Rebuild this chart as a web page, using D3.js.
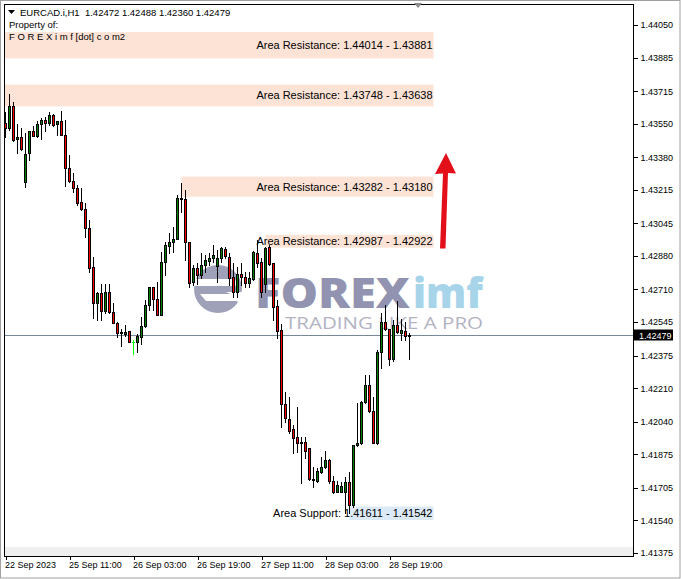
<!DOCTYPE html>
<html><head><meta charset="utf-8">
<script src="https://cdn.jsdelivr.net/npm/d3@7"></script>
<style>html,body{margin:0;padding:0;background:#fff;}svg{display:block;font-family:"Liberation Sans",Arial,sans-serif;}</style>
</head><body><svg id="c" width="681" height="579"></svg>
<script>
const titleText = "EURCAD.i,H1  1.42472 1.42488 1.42360 1.42479";
const ownerLines = ["Property of:", "F O R E X i m f [dot] c o m2"];
const opens = [1.43554,1.43528,1.43640,1.43472,1.43483,1.43255,1.43402,1.43513,1.43488,1.43548,
1.43569,1.43554,1.43594,1.43548,1.43564,1.43493,1.43326,1.43260,1.43224,1.43153,
1.43118,1.43022,1.42824,1.42642,1.42692,1.42601,1.42697,1.42596,1.42540,1.42490,
1.42484,1.42500,1.42444,1.42444,1.42469,1.42525,1.42631,1.42723,1.42662,1.42581,
1.42849,1.42930,1.42951,1.42966,1.43174,1.43168,1.42951,1.42748,1.42819,1.42783,
1.42834,1.42854,1.42870,1.42829,1.42870,1.42915,1.42875,1.42773,1.42697,1.42788,
1.42773,1.42743,1.42763,1.42895,1.42849,1.42738,1.42925,1.42844,1.42626,1.42505,
1.42130,1.42054,1.42003,1.41963,1.41937,1.41937,1.41907,1.41750,1.41740,1.41785,
1.41811,1.41846,1.41740,1.41684,1.41684,1.41684,1.41735,1.41618,1.41922,1.41932,
1.42140,1.42226,1.42094,1.41932,1.42393,1.42545,1.42510,1.42358,1.42530,1.42490,
1.42500,1.42472];
const highs = [1.43609,1.43700,1.43660,1.43548,1.43528,1.43503,1.43513,1.43538,1.43564,1.43579,
1.43584,1.43609,1.43599,1.43564,1.43614,1.43569,1.43391,1.43300,1.43239,1.43224,
1.43148,1.43062,1.42875,1.42697,1.42738,1.42738,1.42738,1.42642,1.42545,1.42510,
1.42530,1.42500,1.42454,1.42484,1.42571,1.42657,1.42723,1.42723,1.42748,1.42900,
1.42951,1.42996,1.43027,1.43189,1.43250,1.43214,1.42951,1.42834,1.42844,1.42895,
1.42885,1.42895,1.42935,1.42910,1.42925,1.42925,1.42895,1.42844,1.42824,1.42844,
1.42799,1.42799,1.42905,1.42961,1.42870,1.42925,1.42935,1.42844,1.42657,1.42535,
1.42191,1.42165,1.42024,1.42115,1.41963,1.41963,1.41907,1.41811,1.41806,1.41861,
1.41892,1.41851,1.41765,1.41740,1.41735,1.41760,1.41785,1.41922,1.42135,1.42145,
1.42277,1.42277,1.42165,1.42403,1.42591,1.42631,1.42510,1.42555,1.42652,1.42561,
1.42545,1.42488];
const lows = [1.43483,1.43518,1.43462,1.43402,1.43417,1.43229,1.43366,1.43488,1.43483,1.43472,
1.43513,1.43543,1.43538,1.43493,1.43493,1.43234,1.43255,1.43204,1.43138,1.43113,
1.42976,1.42799,1.42566,1.42555,1.42555,1.42591,1.42591,1.42540,1.42469,1.42424,
1.42474,1.42444,1.42383,1.42393,1.42434,1.42520,1.42606,1.42606,1.42581,1.42581,
1.42783,1.42895,1.42900,1.42966,1.43103,1.42859,1.42723,1.42733,1.42738,1.42768,
1.42799,1.42834,1.42849,1.42748,1.42849,1.42870,1.42733,1.42672,1.42672,1.42733,
1.42723,1.42723,1.42758,1.42824,1.42672,1.42697,1.42834,1.42555,1.42464,1.42013,
1.42039,1.41983,1.41882,1.41887,1.41730,1.41856,1.41745,1.41709,1.41735,1.41780,
1.41806,1.41730,1.41679,1.41684,1.41684,1.41578,1.41578,1.41608,1.41917,1.41927,
1.42135,1.42089,1.41932,1.41927,1.42312,1.42505,1.42327,1.42348,1.42490,1.42454,
1.42454,1.42360];
const closes = [1.43528,1.43640,1.43467,1.43483,1.43422,1.43396,1.43513,1.43488,1.43548,1.43569,
1.43554,1.43594,1.43543,1.43564,1.43493,1.43326,1.43260,1.43224,1.43148,1.43118,
1.43022,1.42819,1.42642,1.42692,1.42601,1.42697,1.42596,1.42540,1.42490,1.42495,
1.42495,1.42444,1.42444,1.42474,1.42525,1.42631,1.42723,1.42662,1.42581,1.42849,
1.42935,1.42951,1.42966,1.43174,1.43168,1.42951,1.42743,1.42819,1.42783,1.42834,
1.42859,1.42870,1.42885,1.42870,1.42920,1.42880,1.42768,1.42697,1.42788,1.42773,
1.42743,1.42768,1.42900,1.42844,1.42697,1.42920,1.42839,1.42621,1.42500,1.42130,
1.42059,1.41993,1.41958,1.41932,1.41932,1.41892,1.41750,1.41745,1.41791,1.41811,
1.41846,1.41740,1.41684,1.41720,1.41714,1.41735,1.41618,1.41922,1.41932,1.42140,
1.42226,1.42094,1.41932,1.42393,1.42545,1.42510,1.42358,1.42530,1.42495,1.42505,
1.42474,1.42479];
const xTickBars = [0,16,32,48,64,80,96];
const xTickLabels = ["22 Sep 2023","25 Sep 11:00","26 Sep 03:00","26 Sep 19:00","27 Sep 11:00","28 Sep 03:00","28 Sep 19:00"];
const yTickValues = [1.44050,1.43885,1.43715,1.43550,1.43380,1.43215,1.43045,1.42880,1.42710,1.42545,1.42375,1.42210,1.42040,1.41875,1.41705,1.41540,1.41375];
const zoneNames = ["Area Resistance","Area Resistance","Area Resistance","Area Resistance","Area Support"];
const zoneTop = [1.44014,1.43748,1.43282,1.42987,1.41611];
const zoneBottom = [1.43881,1.43638,1.43180,1.42922,1.41542];
const zoneStartBar = [-20,-20,44,65,86];
const zoneEndBar = [107,107,107,107,107];
const zoneColors = ["#fde3d6","#fde3d6","#fde3d6","#fde3d6","#dce9f6"];
const lastPrice = 1.42479;
const priceMin = 1.41375, priceMax = 1.44050;

const svg = d3.select("#c");
const plotL = 4, plotR = 633, plotT = 4, plotB = 556;
const y = d3.scaleLinear().domain([priceMin, priceMax]).range([553, 25]);
const x = d3.scaleLinear().domain([0, 100]).range([5.5, 405.5]);

svg.append("rect").attr("x",0.5).attr("y",0.5).attr("width",679.5).attr("height",577.5).attr("fill","#fff").attr("stroke","#a0a0a0");
svg.append("defs").append("clipPath").attr("id","pc").append("rect")
  .attr("x",plotL+1).attr("y",plotT+1).attr("width",plotR-plotL-1).attr("height",plotB-plotT-1);
svg.append("rect").attr("x",plotL+1).attr("y",547).attr("width",plotR-plotL-1).attr("height",9).attr("fill","#efefef");

const plot = svg.append("g").attr("clip-path","url(#pc)");

// zones
zoneNames.forEach((n,i)=>{
  const x0 = Math.max(plotL, x(zoneStartBar[i])), x1 = x(zoneEndBar[i]);
  const yt = y(zoneTop[i]), yb = y(zoneBottom[i]);
  plot.append("rect").attr("x",x0).attr("y",yt).attr("width",x1-x0).attr("height",yb-yt).attr("fill",zoneColors[i]);
});

// watermark
const wm = plot.append("g");
wm.append("circle").attr("cx",218).attr("cy",289).attr("r",24).attr("fill","#8e90ad").attr("opacity",0.85);
wm.append("path").attr("d","M186,279 L232,279 Q240,281 238,286 L190,286 Z").attr("fill","#fff");
wm.append("path").attr("d","M200,294 L244,294 L244,301 L206,301 Z").attr("fill","#fff");
wm.append("path").attr("d","M226,292 Q246,300 232,314 L246,314 L246,292 Z").attr("fill","#fff");
wm.append("text").attr("x",255).attr("y",308).attr("font-family","'Open Sans',Lato,sans-serif").attr("font-weight",800)
  .attr("font-size",43).attr("fill","#9193b1").attr("textLength",155).attr("lengthAdjust","spacingAndGlyphs").text("FOREX");
wm.append("text").attr("x",413).attr("y",308).attr("font-family","'Open Sans',Lato,sans-serif").attr("font-weight",800)
  .attr("font-size",43).attr("fill","#a8d4ea").attr("textLength",70).attr("lengthAdjust","spacingAndGlyphs").text("imf");
wm.append("text").attr("x",285).attr("y",329).attr("font-family","'Open Sans',Lato,sans-serif").attr("font-weight",400)
  .attr("font-size",17).attr("fill","#b3b3c3").attr("textLength",198).attr("lengthAdjust","spacingAndGlyphs").text("TRADING LIKE A PRO");

// current price line
const yl = Math.round(y(lastPrice)) + 0.5;
plot.append("line").attr("x1",plotL).attr("x2",plotR).attr("y1",yl).attr("y2",yl).attr("stroke","#778899");

// candles
const cg = plot.append("g").attr("shape-rendering","crispEdges");
opens.forEach((o,i)=>{
  const c = closes[i], cx = x(i);
  const doji = o === c;
  const wickCol = doji ? "#00ff00" : "#000";
  cg.append("line").attr("x1",cx).attr("x2",cx).attr("y1",Math.round(y(highs[i]))).attr("y2",Math.round(y(lows[i]))+1).attr("stroke",wickCol);
  const yt = Math.round(y(Math.max(o,c))), yb = Math.round(y(Math.min(o,c)));
  if (doji || yb - yt < 1) {
    cg.append("line").attr("x1",cx-1.5).attr("x2",cx+1.5).attr("y1",yt+0.5).attr("y2",yt+0.5).attr("stroke",wickCol);
  } else {
    cg.append("rect").attr("x",cx-1).attr("y",yt+0.5).attr("width",2).attr("height",yb-yt)
      .attr("fill", c > o ? "#008000" : "#ff0000").attr("stroke","#000");
  }
});

// zone labels
zoneNames.forEach((n,i)=>{
  const ym = (y(zoneTop[i]) + y(zoneBottom[i]))/2;
  plot.append("text").attr("x",x(zoneEndBar[i])-1).attr("y",ym+4).attr("text-anchor","end")
    .attr("font-size",11).attr("fill","#000").text(`${n}: ${zoneTop[i].toFixed(5)} - ${zoneBottom[i].toFixed(5)}`);
});

// arrow
svg.append("path").attr("d","M440,248.5 L445.5,248.5 L448,173 L456,173.5 L446,153 L435,174 L443,173.5 Z").attr("fill","#e3101c");

// frame
svg.append("rect").attr("x",plotL+0.5).attr("y",plotT+0.5).attr("width",plotR-plotL).attr("height",plotB-plotT)
  .attr("fill","none").attr("stroke","#000").attr("shape-rendering","crispEdges");

// y axis
const ya = svg.append("g").attr("transform",`translate(${plotR+0.5},0)`)
  .call(d3.axisRight(y).tickValues(yTickValues).tickSize(4).tickPadding(3).tickFormat(d3.format(".5f")));
ya.select(".domain").remove();
ya.selectAll("line").attr("stroke","#000");
ya.selectAll("text").attr("font-size",9).attr("font-family","'Liberation Sans',Arial,sans-serif").attr("fill","#000");
ya.attr("shape-rendering","crispEdges");

// last price label
svg.append("rect").attr("x",634).attr("y",Math.round(y(lastPrice))-5.5).attr("width",39).attr("height",11).attr("fill","#000");
svg.append("text").attr("x",639).attr("y",Math.round(y(lastPrice))+3.5).attr("font-size",9).attr("fill","#fff").text(lastPrice.toFixed(5));

// x axis
const xa = svg.append("g").attr("transform",`translate(0,${plotB+0.5})`)
  .call(d3.axisBottom(x).tickValues(xTickBars).tickSize(3).tickFormat((d,i)=>xTickLabels[i]));
xa.select(".domain").remove();
xa.selectAll("line").attr("stroke","#000");
xa.selectAll("text").attr("text-anchor","start").attr("dx",-1).attr("y",5).attr("dy","0.71em")
  .attr("font-size",9).attr("font-family","'Liberation Sans',Arial,sans-serif").attr("fill","#000");
xa.attr("shape-rendering","crispEdges");

// header
svg.append("path").attr("d","M8,10 L15,10 L11.5,14 Z").attr("fill","#000");
svg.append("text").attr("x",20).attr("y",16).attr("font-size",9.5).style("white-space","pre").attr("fill","#000").text(titleText);
ownerLines.forEach((t,i)=>{
  svg.append("text").attr("x",9).attr("y",28+12*i).attr("font-size",9.5).attr("fill","#000").text(t);
});
svg.append("path").attr("d","M414,3 L422,3 L418,8 Z").attr("fill","#8c8c8c");
</script></body></html>
